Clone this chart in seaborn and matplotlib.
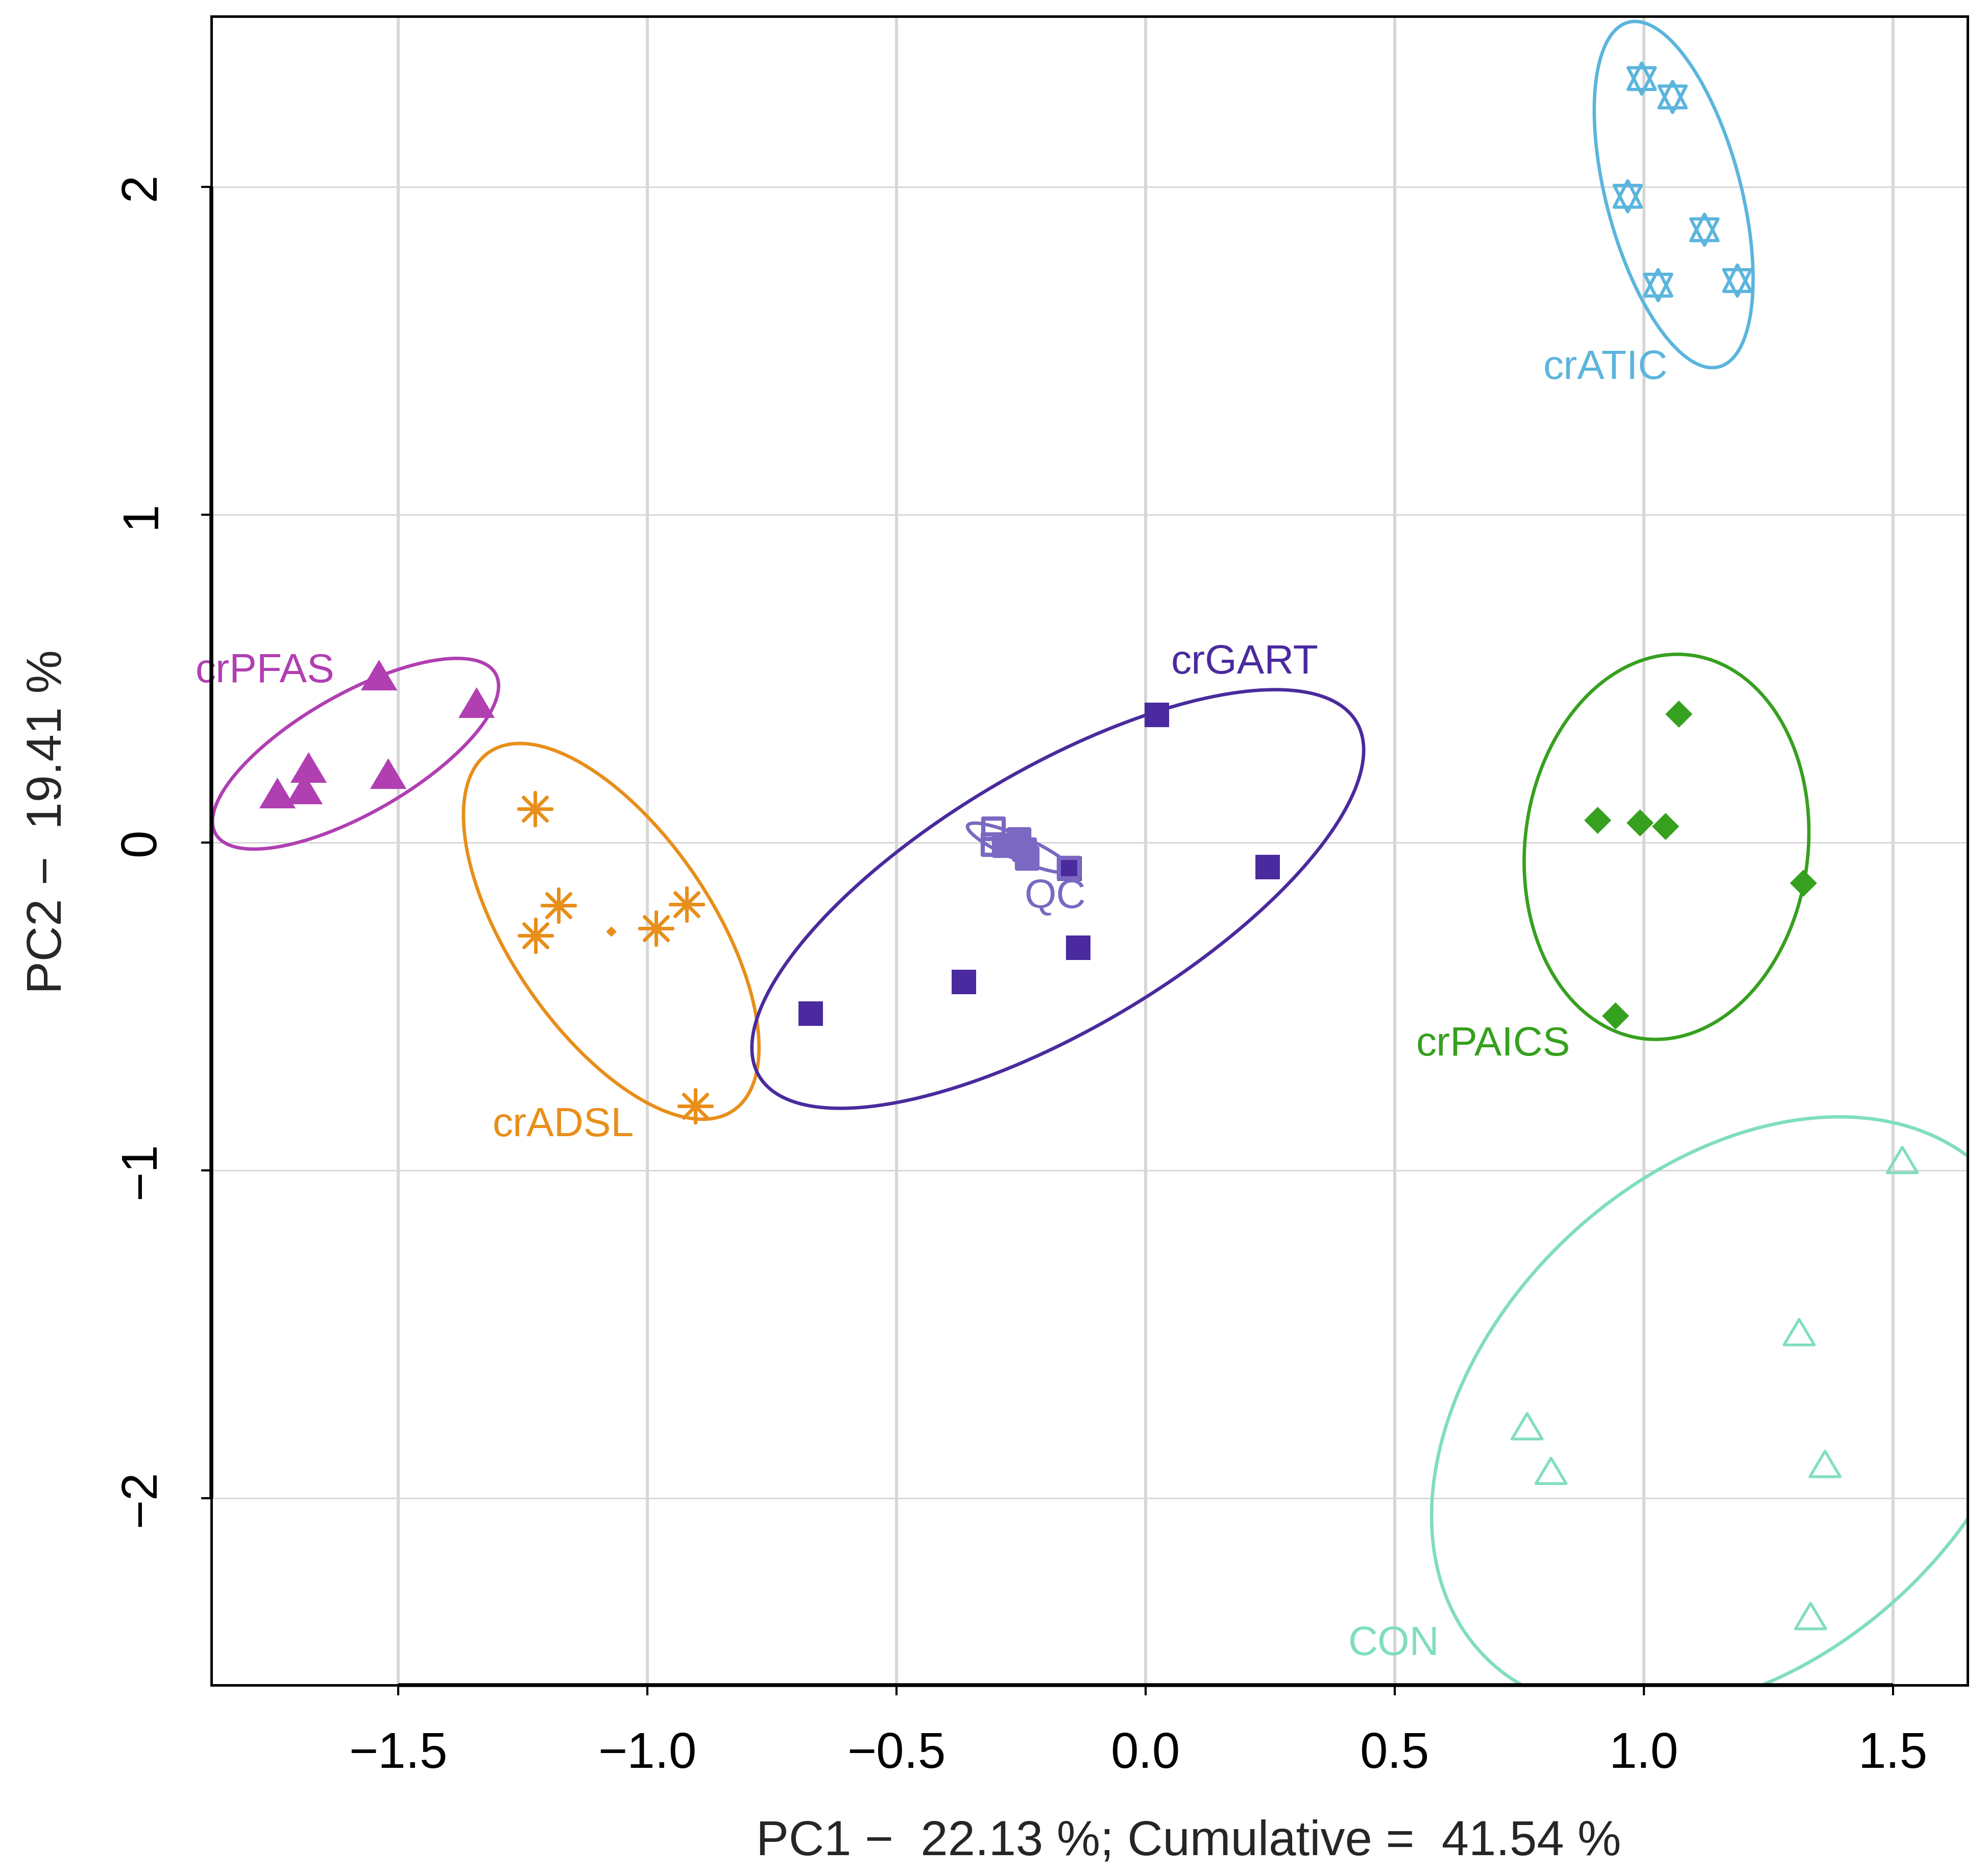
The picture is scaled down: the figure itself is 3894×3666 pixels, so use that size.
import numpy as np
import pandas as pd
import matplotlib
matplotlib.use("Agg")
import matplotlib.pyplot as plt
import seaborn as sns
from matplotlib.path import Path

# ---------------- data ----------------
groups = ["crPFAS", "crADSL", "crGART", "QC", "crPAICS", "crATIC", "CON"]

pfas_x = [-1.743, -1.688, -1.680, -1.539, -1.520, -1.343]
pfas_y = [0.140, 0.152, 0.218, 0.500, 0.200, 0.415]

adsl_x = [-1.225, -1.178, -1.224, -0.982, -0.921, -0.904]
adsl_y = [0.103, -0.192, -0.284, -0.261, -0.188, -0.803]

gart_x = [0.023, 0.245, -0.135, -0.365, -0.672, -0.152]
gart_y = [0.389, -0.075, -0.321, -0.425, -0.522, -0.079]

qc_x = [-0.305, -0.306, -0.284, -0.254, -0.243, -0.237, -0.153]
qc_y = [0.042, -0.006, -0.009, 0.009, -0.022, -0.048, -0.078]
qc_filled = [False, False, True, True, True, True, False]

paics_x = [1.070, 0.907, 0.992, 1.043, 1.320, 0.943]
paics_y = [0.393, 0.069, 0.061, 0.049, -0.123, -0.528]

atic_x = [0.996, 1.058, 0.968, 1.122, 1.029, 1.188]
atic_y = [2.330, 2.274, 1.971, 1.869, 1.700, 1.714]

con_x = [1.519, 1.312, 0.766, 0.814, 1.364, 1.335]
con_y = [-0.978, -1.503, -1.790, -1.926, -1.905, -2.369]

label_x = [-1.767, -1.169, 0.199, -0.182, 0.698, 0.923, 0.499]
label_y = [0.521, -0.863, 0.548, -0.167, -0.618, 1.446, -2.446]

x_ticks = [-1.5, -1.0, -0.5, 0.0, 0.5, 1.0, 1.5]
x_tick_labels = ["\u22121.5", "\u22121.0", "\u22120.5", "0.0", "0.5", "1.0", "1.5"]
y_ticks = [-2, -1, 0, 1, 2]
y_tick_labels = ["\u22122", "\u22121", "0", "1", "2"]

x_label = "PC1 \u2212  22.13 %; Cumulative =  41.54 %"
y_label = "PC2 \u2212  19.41 %"

# ---------------- styles ----------------
colors = {
    "crPFAS": "#B03FB2",
    "crADSL": "#E88E1A",
    "crGART": "#4A2A9E",
    "QC": "#7A68C2",
    "crPAICS": "#36A01F",
    "crATIC": "#5BB5DC",
    "CON": "#80DDC0",
}

tri_path = Path([(0, 1.0), (-0.95, -0.6), (0.95, -0.6), (0, 1.0)],
                [Path.MOVETO, Path.LINETO, Path.LINETO, Path.CLOSEPOLY])
hex_verts = [(0, 1.0), (-0.875, -0.7), (0.875, -0.7), (0, 1.0),
             (0, -1.0), (-0.875, 0.7), (0.875, 0.7), (0, -1.0)]
hex_codes = [Path.MOVETO, Path.LINETO, Path.LINETO, Path.CLOSEPOLY] * 2
hex_path = Path(hex_verts, hex_codes)

sns.set_theme(style="white")
plt.rcParams["font.family"] = ["Liberation Sans", "DejaVu Sans"]
plt.rcParams["axes.unicode_minus"] = True

frames = []
for g, xs, ys in [("crPFAS", pfas_x, pfas_y), ("crADSL", adsl_x, adsl_y),
                  ("crGART", gart_x, gart_y), ("QC", qc_x, qc_y),
                  ("crPAICS", paics_x, paics_y), ("crATIC", atic_x, atic_y),
                  ("CON", con_x, con_y)]:
    frames.append(pd.DataFrame({"PC1": xs, "PC2": ys, "group": g}))
df = pd.concat(frames, ignore_index=True)

fig = plt.figure(figsize=(3894 / 300, 3666 / 300), dpi=300)
ax = fig.add_axes([0.1063, 0.0998, 0.9897 - 0.1063, 0.9913 - 0.0998])

ax.set_xlim(-1.875, 1.650)
ax.set_ylim(-2.57, 2.52)

ax.set_axisbelow(True)
ax.xaxis.grid(True, color="#D7D7D7", lw=1.45)
ax.yaxis.grid(True, color="#D7D7D7", lw=0.7)

# ellipses
K = 1.94
t = np.linspace(0, 2 * np.pi, 400)
for g in groups:
    sub = df[df.group == g]
    pts = sub[["PC1", "PC2"]].to_numpy()
    mu = pts.mean(axis=0)
    cov = np.cov(pts.T)
    vals, vecs = np.linalg.eigh(cov)
    circ = np.vstack([np.cos(t), np.sin(t)])
    ell = (vecs @ np.diag(np.sqrt(vals)) @ circ) * K + mu[:, None]
    ax.plot(ell[0], ell[1], color=colors[g], lw=1.6, zorder=2)

# points
def sub(g):
    return df[df.group == g]

sns.scatterplot(data=sub("crPFAS"), x="PC1", y="PC2", marker=tri_path,
                s=18 ** 2, color=colors["crPFAS"], linewidth=0, ax=ax, zorder=3)
sns.scatterplot(data=sub("crADSL"), x="PC1", y="PC2", marker=(8, 2, 0),
                s=15.5 ** 2, color=colors["crADSL"], linewidth=1.6, ax=ax, zorder=3)
cen = sub("crADSL")[["PC1", "PC2"]].mean()
ax.scatter([cen["PC1"]], [cen["PC2"]], s=12, marker="D", color=colors["crADSL"],
           linewidth=0, zorder=3)
sns.scatterplot(data=sub("crGART"), x="PC1", y="PC2", marker="s",
                s=11.5 ** 2, color=colors["crGART"], linewidth=0, ax=ax, zorder=3)
qc = sub("QC").reset_index(drop=True)
qc_fc = [colors["QC"] if f else "none" for f in qc_filled]
sns.scatterplot(data=qc, x="PC1", y="PC2", marker="s",
                s=9.6 ** 2, facecolor=qc_fc, edgecolor=colors["QC"],
                linewidth=2.0, ax=ax, zorder=4)
sns.scatterplot(data=sub("crPAICS"), x="PC1", y="PC2", marker="D",
                s=9.0 ** 2, color=colors["crPAICS"], linewidth=0, ax=ax, zorder=3)
sns.scatterplot(data=sub("crATIC"), x="PC1", y="PC2", marker=hex_path,
                s=14.6 ** 2, facecolor="none", edgecolor=colors["crATIC"],
                linewidth=1.5, ax=ax, zorder=3)
sns.scatterplot(data=sub("CON"), x="PC1", y="PC2", marker=tri_path,
                s=15 ** 2, facecolor="none", edgecolor=colors["CON"],
                linewidth=1.3, ax=ax, zorder=3)

# group labels
for g, lx, ly in zip(groups, label_x, label_y):
    ax.text(lx, ly, g, color=colors[g], fontsize=19.3, ha="center", va="center",
            zorder=5)

# axes
ax.set_xticks(x_ticks)
ax.set_xticklabels(x_tick_labels)
ax.set_yticks(y_ticks)
ax.set_yticklabels(y_tick_labels, rotation=90, va="center")
ax.tick_params(axis="both", direction="out", length=4.8, width=1.0,
               labelsize=23.5, colors="black", pad=17)
ax.tick_params(axis="both", which="both", bottom=True, left=True)
for sp in ax.spines.values():
    sp.set_color("black")
    sp.set_linewidth(1.2)
ax.set_xlabel("")
ax.set_ylabel("")

# R-style axis lines from first to last tick
trans_x = ax.get_xaxis_transform()
trans_y = ax.get_yaxis_transform()
ax.plot([x_ticks[0], x_ticks[-1]], [0, 0], transform=trans_x, color="black",
        lw=1.8, clip_on=False, zorder=6, solid_capstyle="butt")
ax.plot([0, 0], [y_ticks[0], y_ticks[-1]], transform=trans_y, color="black",
        lw=1.8, clip_on=False, zorder=6, solid_capstyle="butt")

fig.text(0.598, 0.016, x_label, fontsize=23, ha="center", va="center")
fig.text(0.0244, 0.561, y_label, fontsize=23, ha="center", va="center",
         rotation=90)

fig.savefig("out.png", dpi=300, facecolor="white")
